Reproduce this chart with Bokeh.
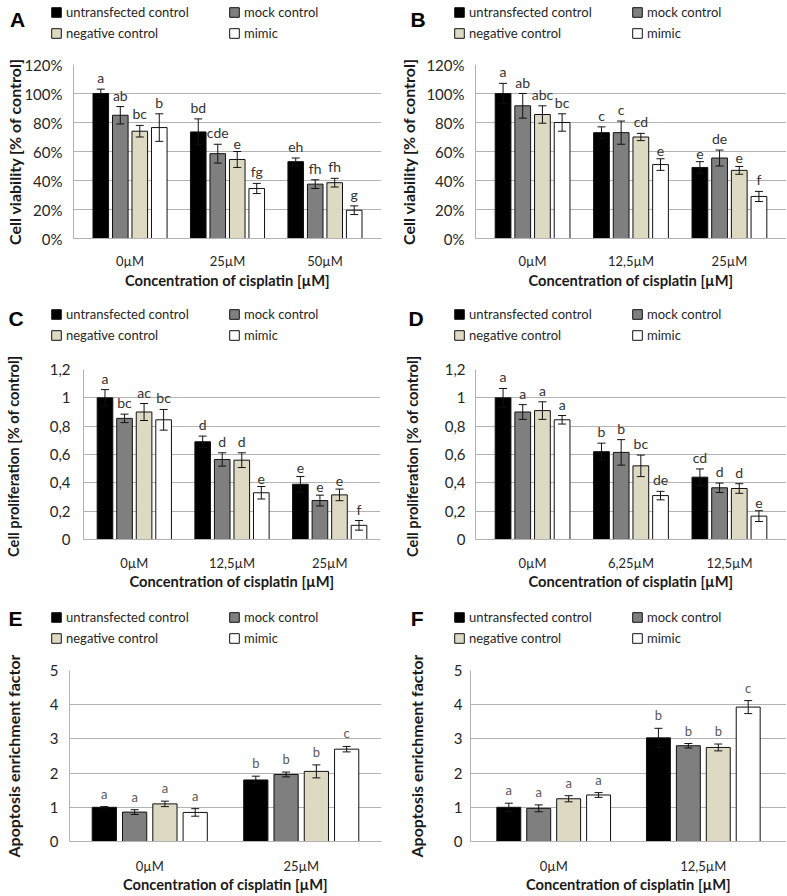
from bokeh.plotting import figure
from bokeh.models import (FactorRange, Range1d, FixedTicker, Whisker, TeeHead,
                          ColumnDataSource, Legend, LegendItem, Label)
from bokeh.transform import dodge
from bokeh.layouts import row, column
from bokeh.core.properties import value
from bokeh.embed import file_html
from bokeh.resources import INLINE

series = ["untransfected control", "mock control", "negative control", "mimic"]
colors = ["#000000", "#7f7f7f", "#ddd9c3", "#ffffff"]

# ---------------- Panel A: cell viability ----------------
a_cats = ["0µM", "25µM", "50µM"]
a_untr = [100, 73.5, 53]
a_mock = [85, 58.5, 37.5]
a_neg = [74, 54.5, 38.5]
a_mimic = [76.5, 34.5, 19.5]
a_untr_err = [3, 9, 2.5]
a_mock_err = [6, 6.5, 3]
a_neg_err = [4, 5.5, 3]
a_mimic_err = [9.5, 3.5, 3]
a_untr_lab = ["a", "bd", "eh"]
a_mock_lab = ["ab", "cde", "fh"]
a_neg_lab = ["bc", "e", "fh"]
a_mimic_lab = ["b", "fg", "g"]

# ---------------- Panel B: cell viability ----------------
b_cats = ["0µM", "12,5µM", "25µM"]
b_untr = [100, 73, 49]
b_mock = [91.5, 73, 55.5]
b_neg = [85.5, 70, 47]
b_mimic = [80, 51, 29]
b_untr_err = [7, 4, 4]
b_mock_err = [8.5, 8, 5.5]
b_neg_err = [6, 2.5, 2.7]
b_mimic_err = [6, 4, 3.5]
b_untr_lab = ["a", "c", "e"]
b_mock_lab = ["ab", "c", "de"]
b_neg_lab = ["abc", "cd", "e"]
b_mimic_lab = ["bc", "e", "f"]

# ---------------- Panel C: cell proliferation ----------------
c_cats = ["0µM", "12,5µM", "25µM"]
c_untr = [1.0, 0.69, 0.39]
c_mock = [0.855, 0.565, 0.275]
c_neg = [0.9, 0.56, 0.315]
c_mimic = [0.845, 0.33, 0.1]
c_untr_err = [0.058, 0.04, 0.055]
c_mock_err = [0.03, 0.047, 0.038]
c_neg_err = [0.06, 0.052, 0.041]
c_mimic_err = [0.073, 0.044, 0.034]
c_untr_lab = ["a", "d", "e"]
c_mock_lab = ["bc", "d", "e"]
c_neg_lab = ["ac", "d", "e"]
c_mimic_lab = ["bc", "e", "f"]

# ---------------- Panel D: cell proliferation ----------------
d_cats = ["0µM", "6,25µM", "12,5µM"]
d_untr = [1.0, 0.62, 0.44]
d_mock = [0.9, 0.615, 0.365]
d_neg = [0.91, 0.52, 0.36]
d_mimic = [0.845, 0.31, 0.165]
d_untr_err = [0.066, 0.06, 0.058]
d_mock_err = [0.052, 0.09, 0.033]
d_neg_err = [0.062, 0.076, 0.034]
d_mimic_err = [0.03, 0.03, 0.038]
d_untr_lab = ["a", "b", "cd"]
d_mock_lab = ["a", "b", "d"]
d_neg_lab = ["a", "bc", "d"]
d_mimic_lab = ["a", "de", "e"]

# ---------------- Panel E: apoptosis ----------------
e_cats = ["0µM", "25µM"]
e_untr = [1.0, 1.8]
e_mock = [0.86, 1.96]
e_neg = [1.1, 2.05]
e_mimic = [0.85, 2.7]
e_untr_err = [0.02, 0.11]
e_mock_err = [0.07, 0.07]
e_neg_err = [0.08, 0.19]
e_mimic_err = [0.11, 0.08]
e_untr_lab = ["a", "b"]
e_mock_lab = ["a", "b"]
e_neg_lab = ["a", "b"]
e_mimic_lab = ["a", "c"]

# ---------------- Panel F: apoptosis ----------------
f_cats = ["0µM", "12,5µM"]
f_untr = [1.0, 3.03]
f_mock = [0.97, 2.8]
f_neg = [1.25, 2.75]
f_mimic = [1.36, 3.93]
f_untr_err = [0.12, 0.28]
f_mock_err = [0.1, 0.065]
f_neg_err = [0.09, 0.1]
f_mimic_err = [0.07, 0.19]
f_untr_lab = ["a", "b"]
f_mock_lab = ["a", "b"]
f_neg_lab = ["a", "b"]
f_mimic_lab = ["a", "c"]

# ---------------- axes ----------------
pct_ticks = [0, 20, 40, 60, 80, 100, 120]
pct_labels = ["0%", "20%", "40%", "60%", "80%", "100%", "120%"]
prol_ticks = [0, 0.2, 0.4, 0.6, 0.8, 1.0, 1.2]
prol_labels = ["0", "0,2", "0,4", "0,6", "0,8", "1", "1,2"]
apo_ticks = [0, 1, 2, 3, 4, 5]
apo_labels = ["0", "1", "2", "3", "4", "5"]

ylab_via = "Cell viability [% of control]"
ylab_prol = "Cell proliferation  [% of control]"
ylab_apo = "Apoptosis enrichment factor"
xlab = "Concentration of cisplatin [µM]"

FONT = "Lato"
TXT = "#262626"
GRID = "#b3b3b3"
EDGE = "#111111"


def header(letter, W, Hh, leg_x, leg_y, let_x, let_y):
    h = figure(width=W, height=Hh, x_range=Range1d(0, 1), y_range=Range1d(0, 1),
               output_backend="svg", toolbar_location=None, title=None,
               x_axis_location=None, y_axis_location=None, frame_align=False,
               min_border_left=0, min_border_right=0, min_border_top=0,
               min_border_bottom=0)
    h.grid.visible = False
    h.outline_line_color = None
    rs = []
    for c in colors:
        # hidden proxy renderers: they only supply the legend swatches
        rs.append(h.vbar(x=[0.5], top=[0.5], width=0.1, fill_color=c,
                         line_color=EDGE, line_width=1, visible=False))
    items = [LegendItem(label=s, renderers=[r]) for s, r in zip(series, rs)]
    leg = Legend(items=items, location=(leg_x, leg_y),
                 orientation="horizontal", ncols=2,
                 glyph_width=12, glyph_height=12, label_standoff=4,
                 spacing=3, label_height=18, label_width=159, padding=0, margin=0,
                 label_text_font=FONT, label_text_font_size="13px",
                 label_text_color=TXT, border_line_color=None,
                 background_fill_alpha=0, inactive_fill_alpha=0)
    h.add_layout(leg, "center")
    h.add_layout(Label(x=let_x, y=Hh - let_y, x_units="screen", y_units="screen",
                       text=letter, text_font="Liberation Sans",
                       text_font_style="bold", text_font_size="21px",
                       text_align="center", text_baseline="middle",
                       text_color="#000000"))
    return h


def make_panel(letter, cats, vals, errs, labs, ymax, ticks, tick_labels, ylabel,
               W, Hh, H, L, R, T, B, pad, ystand, ylabstand, xstand, xlabstand,
               leg_x, leg_y, let_x, let_y, lab_size, lab_color, lab_off, yfs):
    hdr = header(letter, W, Hh, leg_x, leg_y, let_x, let_y)
    xr = FactorRange(*cats, range_padding=pad, range_padding_units="absolute")
    p = figure(x_range=xr, y_range=Range1d(0, ymax), title=None,
               width=W, height=H, output_backend="svg", toolbar_location=None,
               frame_align=False,
               min_border_left=L, min_border_right=R, min_border_top=T,
               min_border_bottom=B)
    p.outline_line_color = None
    p.background_fill_color = "white"
    p.xgrid.visible = False
    p.ygrid.grid_line_color = GRID
    p.ygrid.grid_line_width = 1

    step = 0.2
    for i in range(4):
        off = (i - 1.5) * step
        v = vals[i]
        e = errs[i]
        src = ColumnDataSource(dict(cat=cats, val=v,
                                    up=[a + b for a, b in zip(v, e)],
                                    lo=[a - b for a, b in zip(v, e)],
                                    lab=labs[i]))
        p.vbar(x=dodge("cat", off, range=p.x_range), top="val", width=0.16,
               source=src, fill_color=colors[i], line_color=EDGE, line_width=1)
        w = Whisker(base=dodge("cat", off, range=p.x_range), upper="up", lower="lo",
                    source=src, line_color=EDGE, line_width=1,
                    upper_head=TeeHead(size=8, line_color=EDGE, line_width=1),
                    lower_head=TeeHead(size=8, line_color=EDGE, line_width=1),
                    level="annotation")
        p.add_layout(w)
        p.text(x=dodge("cat", off, range=p.x_range), y="up", text="lab", source=src,
               text_align="center", text_baseline="bottom", y_offset=lab_off,
               text_font=value(FONT), text_font_size=value(lab_size),
               text_color=lab_color)

    ya = p.yaxis[0]
    ya.ticker = FixedTicker(ticks=ticks)
    ya.major_label_overrides = dict(zip(ticks, tick_labels))
    ya.major_tick_out = 0
    ya.major_tick_in = 0
    ya.minor_tick_out = 0
    ya.minor_tick_in = 0
    ya.axis_line_color = GRID
    ya.major_label_standoff = ystand
    ya.major_label_text_font = FONT
    ya.major_label_text_font_size = "15px"
    ya.major_label_text_color = TXT
    ya.axis_label = ylabel
    ya.axis_label_text_font = FONT
    ya.axis_label_text_font_style = "bold"
    ya.axis_label_text_font_size = yfs
    ya.axis_label_text_color = "#1a1a1a"
    ya.axis_label_standoff = ylabstand

    xa = p.xaxis[0]
    xa.major_tick_out = 0
    xa.major_tick_in = 0
    xa.axis_line_color = GRID
    xa.major_label_standoff = xstand
    xa.major_label_text_font = FONT
    xa.major_label_text_font_size = "13px"
    xa.major_label_text_color = TXT
    xa.axis_label = xlab
    xa.axis_label_text_font = FONT
    xa.axis_label_text_font_style = "bold"
    xa.axis_label_text_font_size = "14.7px"
    xa.axis_label_text_color = "#1a1a1a"
    xa.axis_label_standoff = xlabstand
    return column(hdr, p, spacing=0)


WL, WR = 386, 400

pA = make_panel("A", a_cats, [a_untr, a_mock, a_neg, a_mimic],
                [a_untr_err, a_mock_err, a_neg_err, a_mimic_err],
                [a_untr_lab, a_mock_lab, a_neg_lab, a_mimic_lab],
                120, pct_ticks, pct_labels, ylab_via,
                W=WL, Hh=50, H=242, L=73, R=5, T=14, B=54, pad=0.08,
                ystand=11, ylabstand=-3, xstand=14, xlabstand=-1,
                leg_x=50, leg_y=8, let_x=17, let_y=18.5, lab_size="14px",
                lab_color="#333333", lab_off=-3, yfs="16px")
pB = make_panel("B", b_cats, [b_untr, b_mock, b_neg, b_mimic],
                [b_untr_err, b_mock_err, b_neg_err, b_mimic_err],
                [b_untr_lab, b_mock_lab, b_neg_lab, b_mimic_lab],
                120, pct_ticks, pct_labels, ylab_via,
                W=WR, Hh=50, H=242, L=89, R=0, T=14, B=54, pad=0.08,
                ystand=11, ylabstand=5, xstand=14, xlabstand=-1,
                leg_x=67, leg_y=8, let_x=31.5, let_y=18.5, lab_size="14px",
                lab_color="#333333", lab_off=-3, yfs="16px")
pC = make_panel("C", c_cats, [c_untr, c_mock, c_neg, c_mimic],
                [c_untr_err, c_mock_err, c_neg_err, c_mimic_err],
                [c_untr_lab, c_mock_lab, c_neg_lab, c_mimic_lab],
                1.2, prol_ticks, prol_labels, ylab_prol,
                W=WL, Hh=54, H=246, L=78, R=6, T=23, B=51, pad=0.02,
                ystand=13, ylabstand=25, xstand=15, xlabstand=-2,
                leg_x=50, leg_y=2.5, let_x=15.7, let_y=26, lab_size="14px",
                lab_color="#333333", lab_off=-3, yfs="14.7px")
pD = make_panel("D", d_cats, [d_untr, d_mock, d_neg, d_mimic],
                [d_untr_err, d_mock_err, d_neg_err, d_mimic_err],
                [d_untr_lab, d_mock_lab, d_neg_lab, d_mimic_lab],
                1.2, prol_ticks, prol_labels, ylab_prol,
                W=WR, Hh=54, H=246, L=89, R=0, T=23, B=51, pad=0.08,
                ystand=10, ylabstand=21, xstand=15, xlabstand=-2,
                leg_x=67, leg_y=2.5, let_x=29.5, let_y=26, lab_size="14px",
                lab_color="#333333", lab_off=-3, yfs="14.7px")
pE = make_panel("E", e_cats, [e_untr, e_mock, e_neg, e_mimic],
                [e_untr_err, e_mock_err, e_neg_err, e_mimic_err],
                [e_untr_lab, e_mock_lab, e_neg_lab, e_mimic_lab],
                5, apo_ticks, apo_labels, ylab_apo,
                W=WL, Hh=63, H=240, L=69, R=5, T=15, B=52, pad=0.03,
                ystand=11, ylabstand=24, xstand=16, xlabstand=-2,
                leg_x=50, leg_y=8, let_x=15, let_y=26, lab_size="13px",
                lab_color="#595959", lab_off=-5, yfs="16px")
pF = make_panel("F", f_cats, [f_untr, f_mock, f_neg, f_mimic],
                [f_untr_err, f_mock_err, f_neg_err, f_mimic_err],
                [f_untr_lab, f_mock_lab, f_neg_lab, f_mimic_lab],
                5, apo_ticks, apo_labels, ylab_apo,
                W=WR, Hh=63, H=240, L=84, R=0, T=15, B=52, pad=0.056,
                ystand=8, ylabstand=25, xstand=16, xlabstand=-2,
                leg_x=67, leg_y=8, let_x=30.7, let_y=26, lab_size="13px",
                lab_color="#595959", lab_off=-5, yfs="16px")

layout = column(row(pA, pB, spacing=0), row(pC, pD, spacing=0),
                row(pE, pF, spacing=0), spacing=0)

open("out.html", "w").write(file_html(layout, INLINE))
